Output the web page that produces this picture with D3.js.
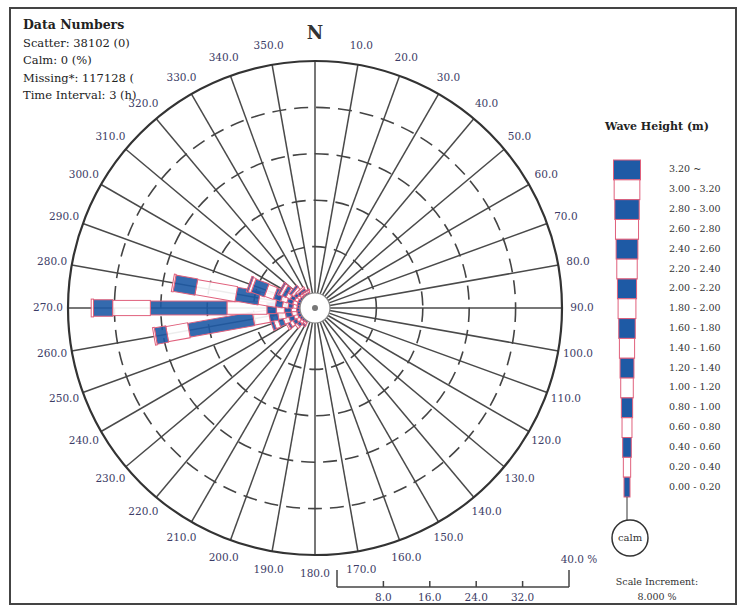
<!DOCTYPE html>
<html>
<head>
<meta charset="utf-8">
<script src="https://cdn.jsdelivr.net/npm/d3@7"></script>
<style>
  body { margin: 0; background: #fff; }
  svg { font-family: "DejaVu Serif", "Liberation Serif", serif; }
  .tick-label { font-size: 10.5px; fill: #3c3c66; }
  .info { font-size: 11.5px; fill: #222; }
</style>
</head>
<body>
<div id="main"></div>
<script>
// dimensions
const svg_width = 739,
    svg_height = 607;
const cx = 315, cy = 308;
const outerR = 247, calmR = 15;

// direction labels, every 10 degrees
const directions = d3.range(0, 360, 10);
const ringSteps = [8, 16, 24, 32];
const scaleTicks = [8, 16, 24, 32];

// wave height classes, low to high
const classLabels = ["0.00 - 0.20", "0.20 - 0.40", "0.40 - 0.60", "0.60 - 0.80",
    "0.80 - 1.00", "1.00 - 1.20", "1.20 - 1.40", "1.40 - 1.60", "1.60 - 1.80",
    "1.80 - 2.00", "2.00 - 2.20", "2.20 - 2.40", "2.40 - 2.60", "2.60 - 2.80",
    "2.80 - 3.00", "3.00 - 3.20", "3.20 ~"];

// frequency (%) per class for each direction with data
const petalDirs = [220, 230, 240, 250, 260, 270, 280, 290, 300, 310, 320, 330];
const freq220 = [0.3, 0.4, 0.3];
const freq230 = [0.4, 0.5, 0.6, 0.4];
const freq240 = [0.5, 0.6, 0.7, 0.6, 0.4, 0.3];
const freq250 = [0.6, 0.7, 0.9, 1.0, 0.9, 0.8, 0.5];
const freq260 = [0.6, 0.9, 1.1, 1.3, 1.5, 2.8, 11.3, 3.8, 2.0, 0.3];
const freq270 = [0.6, 0.9, 1.2, 1.4, 1.6, 6.9, 13.2, 6.5, 3.3, 0.4];
const freq280 = [0.5, 0.7, 0.8, 1.0, 1.2, 3.0, 4.0, 7.0, 3.8, 0.3];
const freq290 = [0.5, 0.8, 1.0, 1.1, 1.3, 1.6, 2.4, 0.5, 0.3];
const freq300 = [0.5, 0.6, 0.8, 0.8, 0.7, 0.5, 0.3];
const freq310 = [0.4, 0.5, 0.6, 0.5, 0.4];
const freq320 = [0.3, 0.4, 0.5, 0.3];
const freq330 = [0.3, 0.3, 0.2];
const petalFreqs = [freq220, freq230, freq240, freq250, freq260, freq270,
    freq280, freq290, freq300, freq310, freq320, freq330];

const blue = "#1e5aa5", pink = "#e0607c";

// set up svg
var svg = d3.select("#main").append("svg")
    .attr("width", svg_width)
    .attr("height", svg_height);

// frame
svg.append("rect")
    .attr("x", 10).attr("y", 8)
    .attr("width", 726).attr("height", 596)
    .attr("fill", "none").attr("stroke", "#444").attr("stroke-width", 2);

// scales
var rScale = d3.scaleLinear().domain([0, 40]).range([calmR, outerR]);
var widthScale = d3.scaleLinear().domain([0, 16]).range([6, 27]);
var rad = function(d) { return d * Math.PI / 180; };

var rose = svg.append("g").attr("transform", `translate(${cx},${cy})`);

// spokes
rose.selectAll(".spoke")
    .data(directions)
    .enter().append("line")
    .attr("class", "spoke")
    .attr("x1", function(d) { return d3.pointRadial(rad(d), calmR)[0]; })
    .attr("y1", function(d) { return d3.pointRadial(rad(d), calmR)[1]; })
    .attr("x2", function(d) { return d3.pointRadial(rad(d), outerR)[0]; })
    .attr("y2", function(d) { return d3.pointRadial(rad(d), outerR)[1]; })
    .attr("stroke", "#4a4a4a").attr("stroke-width", 1.5);

// dashed rings
rose.selectAll(".ring")
    .data(ringSteps)
    .enter().append("circle")
    .attr("class", "ring")
    .attr("r", function(d) { return rScale(d); })
    .attr("fill", "none").attr("stroke", "#444").attr("stroke-width", 1.6)
    .attr("stroke-dasharray", "14,8");

// outer circle
rose.append("circle")
    .attr("r", outerR)
    .attr("fill", "none").attr("stroke", "#333").attr("stroke-width", 2.2);

// petals
petalDirs.forEach(function(dir, i) {
    var freqs = petalFreqs[i];
    var cum = 0;
    var segs = freqs.map(function(f, c) {
        var s = {cls: c, r0: cum, r1: cum + f};
        cum += f;
        return s;
    });
    rose.append("g")
        .attr("transform", `rotate(${dir})`)
        .selectAll("rect")
        .data(segs)
        .enter().append("rect")
        .attr("x", function(d) { return -widthScale(d.cls) / 2; })
        .attr("width", function(d) { return widthScale(d.cls); })
        .attr("y", function(d) { return -rScale(d.r1); })
        .attr("height", function(d) { return rScale(d.r1) - rScale(d.r0); })
        .attr("fill", function(d) { return d.cls % 2 === 0 ? blue : "#fff"; })
        .attr("fill-opacity", 0.9)
        .attr("stroke", pink).attr("stroke-width", 1);
});

// calm circle in the middle
rose.append("circle").attr("r", calmR)
    .attr("fill", "#fff").attr("stroke", "#888").attr("stroke-width", 1.2);
rose.append("circle").attr("r", 3).attr("fill", "#777");

// direction labels
rose.selectAll(".tick-label")
    .data(directions.filter(function(d) { return d !== 0; }))
    .enter().append("text")
    .attr("class", "tick-label")
    .attr("x", function(d) { return d3.pointRadial(rad(d), outerR + 20)[0]; })
    .attr("y", function(d) { return d3.pointRadial(rad(d), outerR + 19)[1]; })
    .attr("text-anchor", "middle")
    .attr("dominant-baseline", "middle")
    .text(function(d) { return d.toFixed(1); });

rose.append("text")
    .attr("x", 0).attr("y", -outerR - 22)
    .attr("text-anchor", "middle")
    .style("font-size", "18px").style("font-weight", "bold").attr("fill", "#333")
    .text("N");

// info block top left
const infoLines = ["Data Numbers", "Scatter: 38102 (0)", "Calm: 0 (%)",
    "Missing*: 117128 (", "Time Interval: 3 (h)"];
svg.selectAll(".info")
    .data(infoLines)
    .enter().append("text")
    .attr("class", "info")
    .attr("x", 23)
    .attr("y", function(d, i) { return 29 + i * 17.5; })
    .style("font-weight", function(d, i) { return i === 0 ? "bold" : "normal"; })
    .style("font-size", function(d, i) { return i === 0 ? "12.5px" : "11.5px"; })
    .text(function(d) { return d; });

// scale bar at the bottom
const barX0 = 337, barY = 587;
var barScale = d3.scaleLinear().domain([0, 40]).range([barX0, barX0 + outerR - calmR]);
var bar = svg.append("g").attr("stroke", "#444").attr("stroke-width", 1.5);
bar.append("line")
    .attr("x1", barScale(0)).attr("x2", barScale(40))
    .attr("y1", barY).attr("y2", barY);
bar.selectAll(".end")
    .data([0, 40]).enter().append("line")
    .attr("x1", function(d) { return barScale(d); }).attr("x2", function(d) { return barScale(d); })
    .attr("y1", barY - 17).attr("y2", barY);
bar.selectAll(".mid")
    .data(scaleTicks).enter().append("line")
    .attr("x1", function(d) { return barScale(d); }).attr("x2", function(d) { return barScale(d); })
    .attr("y1", barY - 6).attr("y2", barY);
svg.selectAll(".bar-label")
    .data(scaleTicks).enter().append("text")
    .attr("class", "tick-label")
    .attr("x", function(d) { return barScale(d); })
    .attr("y", barY + 14)
    .attr("text-anchor", "middle")
    .text(function(d) { return d.toFixed(1); });
svg.append("text")
    .attr("class", "tick-label")
    .attr("x", barScale(40) + 10).attr("y", barY - 24)
    .attr("text-anchor", "middle")
    .text("40.0 %");

// legend
const legX = 627, legTop = 160, legBottom = 497;
var legClasses = d3.range(classLabels.length).reverse();
var legScale = d3.scaleBand().domain(legClasses).range([legTop, legBottom]);

svg.append("text")
    .attr("x", 605).attr("y", 130)
    .style("font-size", "11px").style("font-weight", "bold").attr("fill", "#222")
    .text("Wave Height (m)");

svg.selectAll(".leg-box")
    .data(legClasses).enter().append("rect")
    .attr("class", "leg-box")
    .attr("x", function(d) { return legX - widthScale(d) / 2; })
    .attr("width", function(d) { return widthScale(d); })
    .attr("y", function(d) { return legScale(d); })
    .attr("height", legScale.bandwidth())
    .attr("fill", function(d) { return d % 2 === 0 ? blue : "#fff"; })
    .attr("stroke", pink).attr("stroke-width", 1);

svg.selectAll(".leg-label")
    .data(legClasses).enter().append("text")
    .attr("class", "tick-label")
    .attr("x", 669)
    .attr("y", function(d) { return legScale(d) + legScale.bandwidth() / 2; })
    .attr("dominant-baseline", "middle")
    .style("fill", "#333").style("font-size", "9.5px")
    .text(function(d) { return classLabels[d]; });

// calm symbol under legend
const calmCy = 538;
svg.append("line")
    .attr("x1", legX).attr("x2", legX)
    .attr("y1", legBottom).attr("y2", calmCy - 17)
    .attr("stroke", "#555").attr("stroke-width", 1.2);
svg.append("circle")
    .attr("cx", legX + 3).attr("cy", calmCy).attr("r", 18)
    .attr("fill", "#fff").attr("stroke", "#333").attr("stroke-width", 1.5);
svg.append("text")
    .attr("x", legX + 3).attr("y", calmCy)
    .attr("text-anchor", "middle").attr("dominant-baseline", "middle")
    .style("font-size", "10px").attr("fill", "#333")
    .text("calm");

svg.append("text")
    .attr("x", 657).attr("y", 585)
    .attr("text-anchor", "middle")
    .style("font-size", "9.5px").attr("fill", "#333")
    .text("Scale Increment:");
svg.append("text")
    .attr("x", 657).attr("y", 600)
    .attr("text-anchor", "middle")
    .style("font-size", "9.5px").attr("fill", "#333")
    .text("8.000 %");
</script>
</body>
</html>
